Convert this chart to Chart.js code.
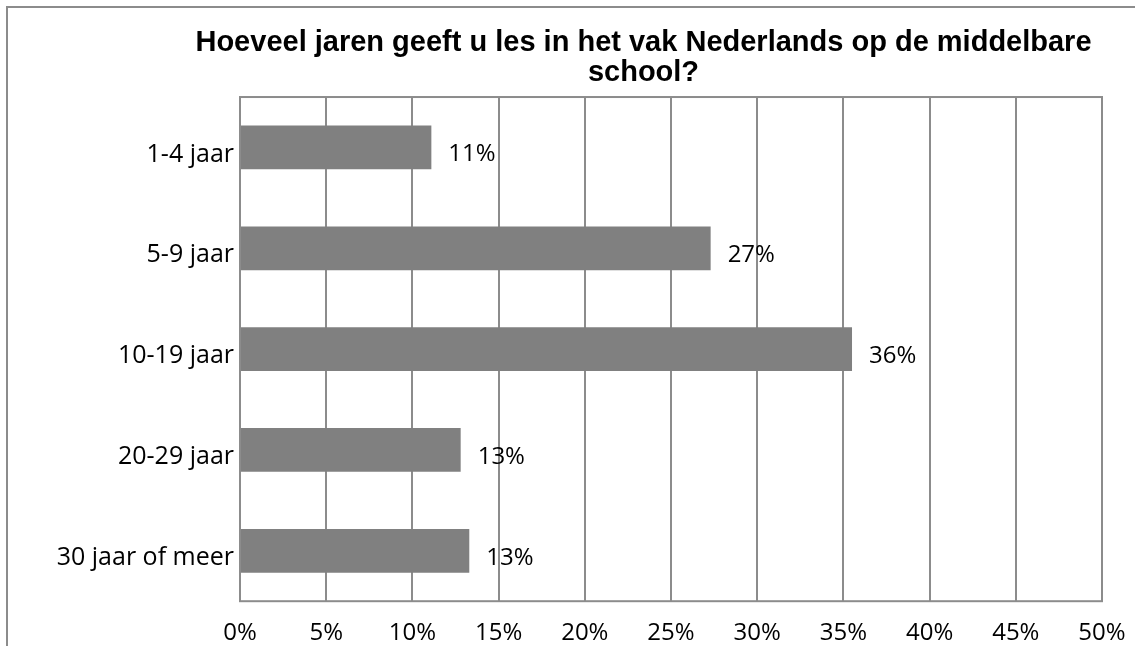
<!DOCTYPE html>
<html>
<head>
<meta charset="utf-8">
<script src="https://cdn.jsdelivr.net/npm/chart.js@4.4.1/dist/chart.umd.min.js"></script>
<style>
  html, body { margin: 0; padding: 0; background: #fff; overflow: hidden; }
  #frame {
    position: absolute; left: 6px; top: 6px;
    width: 1271px; height: 680px;
    border: 2px solid #8c8c8c;
  }
  #chart { display: block; }
</style>
</head>
<body>
<div id="frame"><canvas id="chart" width="1271" height="680"></canvas></div>
<script>
// categories and shares (%)
const categories = ["1-4 jaar", "5-9 jaar", "10-19 jaar", "20-29 jaar", "30 jaar of meer"];
const shares = [11.1, 27.3, 35.5, 12.8, 13.3];
const xTicks = [0, 5, 10, 15, 20, 25, 30, 35, 40, 45, 50];
const titleLines = ["Hoeveel jaren geeft u les in het vak Nederlands op de middelbare", "school?"];

const LINE = "#8c8c8c";
const BAR = "#808080";
const FAMILY = "'Open Sans', sans-serif";
const tickFont = { family: FAMILY, size: 24 };
const catFont = { family: FAMILY, size: 25 };

// plot area border box (Excel style)
const plotBorder = {
  id: "plotBorder",
  beforeDatasetsDraw(chart) {
    const { ctx, chartArea: a } = chart;
    ctx.save();
    ctx.strokeStyle = LINE;
    ctx.lineWidth = 2;
    ctx.strokeRect(a.left, a.top, a.right - a.left, a.bottom - a.top);
    ctx.restore();
  },
};

// value labels to the right of each bar
const barLabels = {
  id: "barLabels",
  afterDatasetsDraw(chart) {
    const { ctx } = chart;
    const meta = chart.getDatasetMeta(0);
    ctx.save();
    ctx.font = `${tickFont.size}px ${FAMILY}`;
    ctx.fillStyle = "#000";
    ctx.textAlign = "left";
    ctx.textBaseline = "middle";
    meta.data.forEach((bar, i) => {
      ctx.fillText(`${Math.round(shares[i])}%`, bar.x + 17, bar.y + 7);
    });
    ctx.restore();
  },
};

new Chart(document.getElementById("chart"), {
  type: "bar",
  data: {
    labels: categories,
    datasets: [
      {
        data: shares,
        backgroundColor: BAR,
        borderWidth: 0,
        barPercentage: 0.434,
        categoryPercentage: 1,
      },
    ],
  },
  options: {
    indexAxis: "y",
    responsive: false,
    animation: false,
    layout: { padding: { left: 0, right: 0, top: 0, bottom: 22 } },
    plugins: {
      legend: { display: false },
      tooltip: { enabled: false },
      title: {
        display: true,
        text: titleLines,
        color: "#000",
        font: { family: "'Liberation Sans', Arial, sans-serif", size: 29, weight: "bold", lineHeight: 1.035 },
        padding: { top: 19.5, bottom: 9.5 },
      },
    },
    scales: {
      x: {
        min: 0,
        max: 50,
        afterBuildTicks(scale) {
          scale.ticks = xTicks.map((v) => ({ value: v }));
        },
        ticks: {
          color: "#000",
          font: tickFont,
          padding: 18,
          maxRotation: 0,
          callback: (v) => `${v}%`,
        },
        grid: { color: LINE, lineWidth: 2, drawTicks: false },
        border: { display: false },
      },
      y: {
        afterFit(scale) {
          scale.width = 232;
        },
        ticks: { color: "#000", font: catFont, padding: 6, labelOffset: 7 },
        grid: { display: false, drawTicks: false },
        border: { display: false },
      },
      // empty space on the right of the plot (chart continues past the crop)
      yRight: {
        type: "category",
        position: "right",
        afterFit(scale) {
          scale.width = 177;
        },
        ticks: { display: false },
        grid: { display: false, drawTicks: false },
        border: { display: false },
      },
    },
  },
  plugins: [plotBorder, barLabels],
});
</script>
</body>
</html>
